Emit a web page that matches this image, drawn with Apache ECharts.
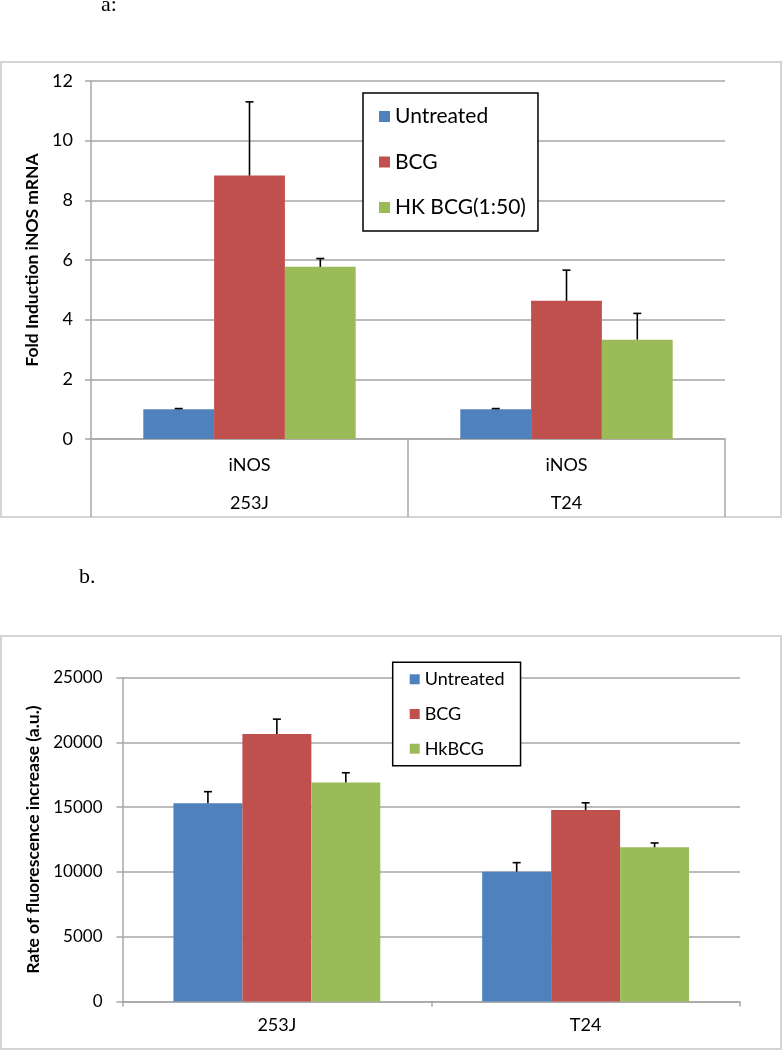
<!DOCTYPE html>
<html>
<head>
<meta charset="utf-8">
<script src="https://cdn.jsdelivr.net/npm/echarts@6/dist/echarts.min.js"></script>
<style>html,body{margin:0;padding:0;background:#fff}#c{width:782px;height:1050px}</style>
</head>
<body>
<div id="c"></div>
<script>
// ---- Data (panel a) ----
const catsA = ['iNOS\n253J', 'iNOS\nT24'];
const namesA = ['Untreated', 'BCG', 'HK BCG(1:50)'];
const untreatedA = [1.0, 1.0];
const bcgA = [8.83, 4.63];
const hkA = [5.77, 3.33];
const untreatedAErr = [0.02, 0.02];
const bcgAErr = [2.47, 1.03];
const hkAErr = [0.28, 0.88];
const ticksA = [0, 2, 4, 6, 8, 10, 12];

// ---- Data (panel b) ----
const catsB = ['253J', 'T24'];
const namesB = ['Untreated', 'BCG', 'HkBCG'];
const untreatedB = [15300, 10020];
const bcgB = [20660, 14780];
const hkB = [16900, 11910];
const untreatedBErr = [900, 700];
const bcgBErr = [1140, 560];
const hkBErr = [760, 330];
const ticksB = [0, 5000, 10000, 15000, 20000, 25000];

const colors = ['#4F81BD', '#C0504D', '#9BBB59'];
const GAP = 0.33;
const FONT = 'Lato, "Open Sans", sans-serif';

function errData(vals, errs) {
  const out = [];
  vals.forEach((arr, s) => arr.forEach((v, c) => out.push([c, s, v, v + errs[s][c]])));
  return out;
}
function errRender(params, api) {
  const c = api.value(0), s = api.value(1), v = api.value(2), e = api.value(3);
  const p0 = api.coord([c, v]);
  const p1 = api.coord([c, e]);
  const cw = api.size([1, 0])[0];
  const bw = cw * (1 - GAP) / 3;
  const x = p0[0] + (s - 1) * bw;
  const st = { stroke: '#000', lineWidth: 1.6 };
  return {
    type: 'group',
    children: [
      { type: 'line', shape: { x1: x, y1: p0[1], x2: x, y2: p1[1] }, style: st },
      { type: 'line', shape: { x1: x - 4, y1: p1[1], x2: x + 4, y2: p1[1] }, style: st }
    ]
  };
}

const gridColor = '#a6a6a6';
const chart = echarts.init(document.getElementById('c'), null, { renderer: 'canvas' });
const valsA = [untreatedA, bcgA, hkA], errsA = [untreatedAErr, bcgAErr, hkAErr];
const valsB = [untreatedB, bcgB, hkB], errsB = [untreatedBErr, bcgBErr, hkBErr];

const series = [];
namesA.forEach((n, i) => series.push({
  type: 'bar', name: n, data: valsA[i], xAxisIndex: 0, yAxisIndex: 0,
  barGap: '0%', barCategoryGap: (GAP * 100) + '%', itemStyle: { color: colors[i] }, z: 2
}));
namesB.forEach((n, i) => series.push({
  type: 'bar', name: n, data: valsB[i], xAxisIndex: 1, yAxisIndex: 1,
  barGap: '0%', barCategoryGap: (GAP * 100) + '%', itemStyle: { color: colors[i] }, z: 2
}));
series.push({ type: 'custom', xAxisIndex: 0, yAxisIndex: 0, renderItem: errRender, data: errData(valsA, errsA), z: 3, silent: true, encode: { x: 0, y: [2, 3] } });
series.push({ type: 'custom', xAxisIndex: 1, yAxisIndex: 1, renderItem: errRender, data: errData(valsB, errsB), z: 3, silent: true, encode: { x: 0, y: [2, 3] } });

chart.setOption({
  animation: false,
  backgroundColor: '#fff',
  grid: [
    { left: 91, top: 81, width: 634, height: 358 },
    { left: 122.5, top: 677.7, width: 617.5, height: 323.8 }
  ],
  xAxis: [
    {
      type: 'category', gridIndex: 0, data: catsA,
      axisLine: { lineStyle: { color: gridColor, width: 1.5 } },
      axisTick: { show: true, length: 78, interval: 0, lineStyle: { color: gridColor, width: 1.5 } },
      axisLabel: { margin: 7, color: '#000', fontFamily: FONT, fontSize: 18, lineHeight: 38, interval: 0 }
    },
    {
      type: 'category', gridIndex: 1, data: catsB,
      axisLine: { lineStyle: { color: gridColor, width: 1.5 } },
      axisTick: { show: true, length: 5, interval: 0, lineStyle: { color: gridColor, width: 1.5 } },
      axisLabel: { margin: 15, color: '#000', fontFamily: FONT, fontSize: 18, lineHeight: 18, interval: 0 }
    }
  ],
  yAxis: [
    {
      type: 'value', gridIndex: 0, min: ticksA[0], max: ticksA[ticksA.length - 1], interval: ticksA[1] - ticksA[0],
      name: 'Fold Induction iNOS mRNA', nameLocation: 'middle', nameGap: 40,
      nameTextStyle: { fontFamily: FONT, fontWeight: 'bold', fontSize: 17.5, color: '#000' },
      axisLine: { show: true, lineStyle: { color: gridColor, width: 1.5 } },
      axisTick: { show: true, length: 6, lineStyle: { color: gridColor, width: 1.5 } },
      axisLabel: { margin: 18, color: '#000', fontFamily: FONT, fontSize: 18, formatter: v => String(v) },
      splitLine: { lineStyle: { color: gridColor, width: 1.5 } }
    },
    {
      type: 'value', gridIndex: 1, min: ticksB[0], max: ticksB[ticksB.length - 1], interval: ticksB[1] - ticksB[0],
      name: 'Rate of fluorescence increase (a.u.)', nameLocation: 'middle', nameGap: 61,
      nameTextStyle: { fontFamily: FONT, fontWeight: 'bold', fontSize: 17.5, color: '#000' },
      axisLine: { show: true, lineStyle: { color: gridColor, width: 1.5 } },
      axisTick: { show: true, length: 6, lineStyle: { color: gridColor, width: 1.5 } },
      axisLabel: { margin: 20, color: '#000', fontFamily: FONT, fontSize: 17, formatter: v => String(v) },
      splitLine: { lineStyle: { color: gridColor, width: 1.5 } }
    }
  ],
  legend: [
    {
      data: namesA, orient: 'vertical', left: 363, top: 93,
      padding: [13, 12, 13, 16], itemGap: 24.5, itemWidth: 11, itemHeight: 11, icon: 'rect',
      borderColor: '#000', borderWidth: 1.5, backgroundColor: '#fff',
      textStyle: { fontFamily: FONT, fontSize: 21, lineHeight: 20, color: '#000' }
    },
    {
      data: namesB, orient: 'vertical', left: 392.7, top: 662.3,
      padding: [8, 16, 8, 17], itemGap: 16.7, itemWidth: 10, itemHeight: 10, icon: 'rect',
      borderColor: '#000', borderWidth: 1.5, backgroundColor: '#fff',
      textStyle: { fontFamily: FONT, fontSize: 18, lineHeight: 18, color: '#000' }
    }
  ],
  graphic: [
    { type: 'rect', shape: { x: 1, y: 62, width: 780, height: 455 }, style: { fill: 'none', stroke: '#d4d4d4', lineWidth: 2 }, z: 0, silent: true },
    { type: 'rect', shape: { x: 1, y: 636, width: 780, height: 413 }, style: { fill: 'none', stroke: '#d4d4d4', lineWidth: 2 }, z: 0, silent: true },
    { type: 'text', left: 101, top: -6, style: { text: 'a:', font: '22px "Liberation Serif", "Times New Roman", serif', fill: '#000' } },
    { type: 'text', left: 79, top: 566, style: { text: 'b.', font: '22px "Liberation Serif", "Times New Roman", serif', fill: '#000' } }
  ],
  series: series
});
</script>
</body>
</html>
